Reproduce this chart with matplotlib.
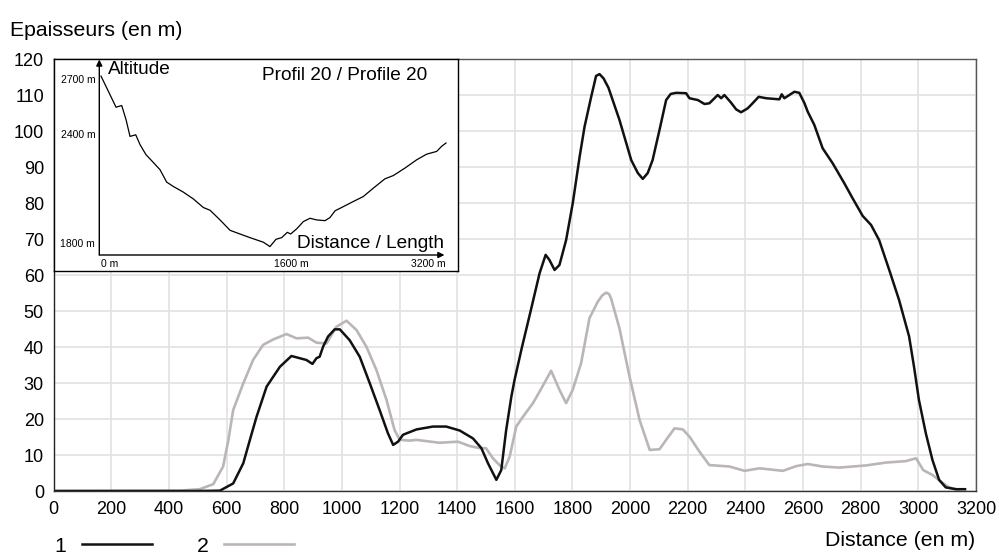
#! /usr/bin/env python3
# -*- coding: utf-8 -*-
import matplotlib
matplotlib.use('Agg')
import matplotlib.pyplot as plt

plt.rcParams['font.family'] = ['Liberation Sans', 'DejaVu Sans']

# series 1 (black) : distance (m), thickness (m)
dist_1 = [0, 500, 577, 623, 658, 681, 704, 739, 785, 825, 877, 898, 912, 923, 935, 952, 975,
          993, 1027, 1062, 1097, 1131, 1160, 1178, 1195, 1212, 1224, 1259, 1316, 1362,
          1409, 1455, 1484, 1507, 1536, 1553, 1570, 1588, 1599, 1625, 1655, 1686, 1707,
          1720, 1738, 1755, 1778, 1801, 1825, 1842, 1865, 1882, 1894, 1908, 1925, 1963,
          2004, 2027, 2044, 2061, 2078, 2102, 2125, 2141, 2160, 2194, 2206, 2235, 2258,
          2275, 2304, 2316, 2327, 2350, 2368, 2385, 2408, 2425, 2446, 2472, 2518, 2526,
          2535, 2570, 2587, 2605, 2616, 2639, 2668, 2703, 2743, 2772, 2807, 2836, 2864,
          2899, 2933, 2968, 2985, 3002, 3026, 3049, 3072, 3095, 3130, 3162]
thick_1 = [0, 0, 0.1, 2.1, 7.7, 14.2, 20.6, 29.0, 34.5, 37.5, 36.4, 35.3, 36.9, 37.3, 40.1,
           42.9, 44.9, 44.9, 41.9, 37.3, 29.9, 22.5, 16.0, 12.8, 13.7, 15.6, 16.0, 17.1,
           17.9, 17.9, 16.8, 14.6, 11.9, 7.7, 3.1, 5.8, 16.9, 26.2, 30.8, 40, 50, 60.5,
           65.6, 64.2, 61.4, 62.8, 69.7, 79.9, 92.9, 101.2, 109.5, 115.3, 115.8, 114.6,
           112.0, 103.1, 91.9, 88.3, 86.7, 88.3, 91.9, 100.3, 108.6, 110.3, 110.6, 110.5,
           109.1, 108.6, 107.5, 107.7, 110, 109.1, 110, 107.9, 106.0, 105.2, 106.3, 107.7,
           109.5, 109.1, 108.8, 110.2, 109.1, 110.9, 110.6, 107.7, 105.4, 101.7, 95.2,
           91.0, 85.5, 81.3, 76.4, 73.9, 69.7, 61.4, 53.1, 42.9, 34.5, 25.3, 16.0, 8.6,
           3.1, 1.0, 0.5, 0.5]

# series 2 (grey)
dist_2 = [0, 438, 507, 554, 588, 606, 623, 658, 692, 727, 762, 808, 843, 883, 912, 947, 981,
          1016, 1051, 1085, 1120, 1155, 1183, 1201, 1235, 1259, 1339, 1403, 1443, 1478,
          1500, 1524, 1547, 1565, 1582, 1605, 1628, 1663, 1686, 1726, 1755, 1778, 1801,
          1830, 1859, 1888, 1903, 1917, 1927, 1934, 1963, 1998, 2033, 2068, 2102, 2125,
          2154, 2183, 2206, 2241, 2275, 2345, 2397, 2449, 2530, 2576, 2616, 2668, 2726,
          2818, 2888, 2957, 2992, 3017, 3050, 3078, 3107, 3141]
thick_2 = [0, 0.1, 0.5, 1.9, 6.8, 14.0, 22.5, 29.9, 36.4, 40.6, 42.1, 43.6, 42.4, 42.6,
           41.2, 41.0, 45.6, 47.3, 44.7, 40.1, 33.6, 25.3, 16.9, 14.2, 14.0, 14.2, 13.4,
           13.7, 12.5, 11.9, 11.9, 9.1, 7.2, 6.3, 9.5, 17.9, 20.6, 24.4, 27.6, 33.4, 28.1,
           24.4, 28.1, 35.5, 48.0, 52.6, 54.3, 55.1, 54.7, 53.5, 45.2, 31.8, 19.7, 11.4,
           11.6, 14.2, 17.4, 17.1, 15.1, 10.9, 7.2, 6.8, 5.6, 6.3, 5.6, 6.9, 7.5, 6.8,
           6.5, 7.1, 7.9, 8.3, 9.1, 5.8, 4.4, 2.6, 1.0, 0.3]

# altitude profile for the inset
prof_dist = [0, 68, 139, 192, 232, 269, 322, 362, 417, 470, 547, 609, 671, 764, 856, 949,
             1011, 1104, 1197, 1289, 1382, 1506, 1567, 1623, 1676, 1728, 1759, 1815, 1877,
             1939, 2000, 2078, 2124, 2171, 2232, 2341, 2433, 2526, 2634, 2712, 2820, 2928,
             3021, 3114, 3160, 3200]
prof_alt = [2715, 2632, 2545, 2554, 2477, 2385, 2394, 2340, 2285, 2252, 2203, 2135, 2111,
            2080, 2043, 1996, 1981, 1928, 1871, 1851, 1831, 1806, 1782, 1822, 1831, 1860,
            1851, 1879, 1919, 1937, 1928, 1924, 1941, 1978, 1996, 2029, 2056, 2102, 2153,
            2171, 2212, 2257, 2288, 2303, 2331, 2349]

x_ticks = list(range(0, 3201, 200))
y_ticks = list(range(0, 121, 10))
prof_yticks = [1800, 2400, 2700]
prof_xticks = [0, 1600, 3200]

BLACK = '#111111'
GREY = '#bcb5b5'
W, H = 999, 555


def fig_rect(left, top, right, bottom):
    return [left / W, 1 - bottom / H, (right - left) / W, (bottom - top) / H]


def plotThickness():
    fig = plt.figure(figsize=(9.99, 5.55), dpi=100)
    ax = fig.add_axes(fig_rect(53.6, 59, 976, 491))
    l2, = ax.plot(dist_2, thick_2, color=GREY, lw=1.9, solid_joinstyle='round')
    l1, = ax.plot(dist_1, thick_1, color=BLACK, lw=1.8, solid_joinstyle='round')
    ax.set_xlim(0, 3200)
    ax.set_ylim(0, 120)
    ax.set_xticks(x_ticks)
    ax.set_yticks(y_ticks)
    ax.tick_params(length=0, labelsize=13, pad=7)
    ax.grid(True, color='#e2e2e2', lw=1.2)
    ax.set_axisbelow(True)
    for sp in ax.spines.values():
        sp.set_color('#555555')
        sp.set_linewidth(1.0)
    ax.spines['left'].set_color('#222222')
    ax.spines['bottom'].set_color('#333333')

    fig.text(10 / W, 1 - 30 / H, 'Epaisseurs (en m)', fontsize=15.3, va='center', ha='left')
    fig.text(975 / W, 1 - 541 / H, 'Distance (en m)', fontsize=15.3, va='center', ha='right')
    fig.legend([l1, l2], ['1', '2'], markerfirst=False, ncol=2, frameon=False,
               loc='center left', bbox_to_anchor=(54 / W, 1 - 546 / H), fontsize=15.3,
               handlelength=3.3, handletextpad=0.75, columnspacing=2.1,
               borderpad=0, borderaxespad=0)

    # inset frame
    frame = fig.add_axes(fig_rect(54, 59, 458, 271))
    frame.set_xticks([])
    frame.set_yticks([])
    frame.set_facecolor('white')
    for sp in frame.spines.values():
        sp.set_color('black')
        sp.set_linewidth(1.0)

    # inset profile
    ins = fig.add_axes(fig_rect(99.3, 59.5, 449, 255))
    ins.patch.set_alpha(0)
    ins.plot(prof_dist, prof_alt, color='black', lw=0.9)
    ins.set_xlim(-16, 3228)
    ins.set_ylim(1736, 2806)
    for sp in ins.spines.values():
        sp.set_visible(False)
    ins.annotate('', xy=(0.987, 0), xytext=(0, 0), xycoords='axes fraction',
                 arrowprops=dict(arrowstyle='-|>', color='black', lw=1.0,
                                 mutation_scale=9, shrinkA=0, shrinkB=0))
    ins.annotate('', xy=(0, 1), xytext=(0, 0), xycoords='axes fraction',
                 arrowprops=dict(arrowstyle='-|>', color='black', lw=1.0,
                                 mutation_scale=9, shrinkA=0, shrinkB=0))
    ins.set_yticks(prof_yticks)
    ins.set_yticklabels(['%d m' % v for v in prof_yticks])
    ins.set_xticks(prof_xticks)
    ins.set_xticklabels(['%d m' % v for v in prof_xticks])
    ins.tick_params(length=0, labelsize=7.5, pad=3)
    xl = ins.get_xticklabels()
    xl[0].set_ha('left')
    xl[1].set_ha('left')
    xl[2].set_ha('right')

    fig.text(108 / W, 1 - 70 / H, 'Altitude', fontsize=13.7, va='center', ha='left')
    fig.text(262 / W, 1 - 75 / H, 'Profil 20 / Profile 20', fontsize=13.7, va='center', ha='left')
    fig.text(444 / W, 1 - 243 / H, 'Distance / Length', fontsize=13.7, va='center', ha='right')

    fig.savefig('out.png', dpi=100)
    return


def main():
    plotThickness()


if __name__ == '__main__':
    main()
